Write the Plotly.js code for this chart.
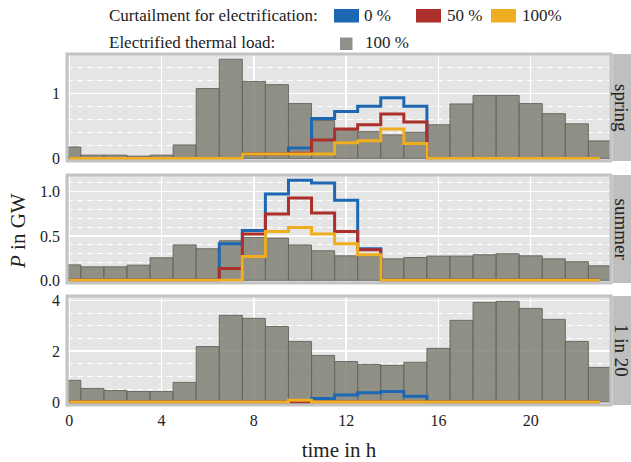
<!DOCTYPE html>
<html><head><meta charset="utf-8">
<script src="https://cdn.plot.ly/plotly-3.0.1.min.js"></script>
<style>html,body{margin:0;padding:0;background:#fff}#chart{width:631px;height:462px}</style>
</head><body><div id="chart"></div><script>
// ---- data ----
const hours = [0,1,2,3,4,5,6,7,8,9,10,11,12,13,14,15,16,17,18,19,20,21,22,23];
const panelNames = ['spring', 'summer', '1 in 20'];
const seriesNames = ['0 %', '50 %', '100%'];
const loadName = '100 %';

const springLoad = [0.175,0.05,0.05,0.035,0.05,0.206,1.07,1.52,1.18,1.13,0.84,0.58,0.44,0.41,0.36,0.40,0.515,0.835,0.965,0.965,0.84,0.686,0.53,0.268];
const springC0   = [0,0,0,0,0,0,0,0,0.066,0.066,0.16,0.61,0.72,0.80,0.93,0.80,0,0,0,0,0,0,0,0];
const springC50  = [0,0,0,0,0,0,0,0,0.066,0.066,0.08,0.28,0.45,0.515,0.68,0.557,0,0,0,0,0,0,0,0];
const springC100 = [0,0,0,0,0,0,0,0,0.066,0.066,0.066,0.066,0.24,0.27,0.45,0.23,0,0,0,0,0,0,0,0];

const summerLoad = [0.175,0.153,0.153,0.172,0.255,0.40,0.357,0.447,0.485,0.477,0.40,0.334,0.277,0.277,0.243,0.258,0.274,0.274,0.289,0.30,0.277,0.243,0.21,0.164];
const summerC0   = [0,0,0,0,0,0,0,0.413,0.564,0.976,1.13,1.10,0.904,0.357,0,0,0,0,0,0,0,0,0,0];
const summerC50  = [0,0,0,0,0,0,0,0.134,0.523,0.75,0.93,0.76,0.553,0.345,0,0,0,0,0,0,0,0,0,0];
const summerC100 = [0,0,0,0,0,0,0,0,0.27,0.553,0.598,0.523,0.413,0.289,0,0,0,0,0,0,0,0,0,0];

const winterLoad = [0.85,0.53,0.45,0.41,0.41,0.77,2.18,3.41,3.29,2.97,2.38,1.83,1.59,1.48,1.44,1.56,2.11,3.21,3.92,3.96,3.68,3.25,2.38,1.36];
const winterC0   = [0,0,0,0,0,0,0,0,0,0,0,0.14,0.27,0.36,0.41,0.22,0,0,0,0,0,0,0,0];
const winterC50  = [0,0,0,0,0,0,0,0,0,0,0,0,0,0,0,0,0,0,0,0,0,0,0,0];
const winterC100 = [0,0,0,0,0,0,0,0,0,0,0.07,0,0,0,0,0,0,0,0,0,0,0,0,0];

// ---- styling ----
const FONT = 'Liberation Serif, Times New Roman, serif';
const colors = ['#1d68b3', '#ad2f2b', '#eeae1f'];
const barFill = 'rgba(126,126,116,0.84)';
const barLine = 'rgba(100,100,92,0.9)';

const panelData = [
  {load: springLoad, c: [springC0, springC50, springC100], ax: 'y'},
  {load: summerLoad, c: [summerC0, summerC50, summerC100], ax: 'y2'},
  {load: winterLoad, c: [winterC0, winterC50, winterC100], ax: 'y3'}
];

const traces = [];
panelData.forEach((p, i) => {
  traces.push({type: 'bar', x: hours, y: p.load, yaxis: p.ax, width: 1,
    marker: {color: barFill, line: {color: barLine, width: 1}},
    name: loadName, showlegend: false, hoverinfo: 'x+y'});
  p.c.forEach((ser, k) => {
    traces.push({type: 'scatter', mode: 'lines', x: hours, y: ser, yaxis: p.ax,
      line: {color: colors[k], width: 3, shape: 'hvh'},
      name: seriesNames[k], showlegend: false});
  });
});

// pixel helpers (plot area x: 67..611, y: 54..405)
const L = 67, R = 611, T = 54, B = 405;
const px = v => (v - L) / (R - L);
const py = v => (B - v) / (B - T);

const doms = [[py(161), py(54)], [py(283), py(175)], [py(405), py(296)]];

function yax(dom, range, dtick, minorD, fmt) {
  return {domain: dom, range: range, dtick: dtick, tick0: 0, anchor: 'x',
    tickformat: fmt, showgrid: true, gridcolor: '#ffffff', gridwidth: 1.3,
    zeroline: false, showline: false, ticks: '', ticklabelstandoff: 6,
    tickfont: {family: FONT, size: 16, color: '#222'},
    minor: {dtick: minorD, tick0: 0, showgrid: true, gridcolor: '#ffffff', gridwidth: 1, griddash: '6px,4px'}};
}

const shapes = [];
const annotations = [];
['y', 'y2', 'y3'].forEach((a, i) => {
  shapes.push({type: 'rect', xref: 'paper', yref: a + ' domain', x0: 0, x1: 1, y0: 0, y1: 1,
    line: {color: '#c3c3c3', width: 3}, fillcolor: 'rgba(0,0,0,0)', layer: 'above'});
  shapes.push({type: 'rect', xref: 'paper', yref: a + ' domain', x0: px(612.5), x1: px(631), y0: 0, y1: 1,
    line: {width: 0}, fillcolor: '#bfbfbf', layer: 'above'});
  annotations.push({xref: 'paper', yref: a + ' domain', x: px(621.5), y: 0.5, text: panelNames[i],
    showarrow: false, textangle: 90, font: {family: FONT, size: 19, color: '#222'},
    xanchor: 'center', yanchor: 'middle'});
});

// legend (drawn as text + swatches)
const LF = 17;
annotations.push({xref: 'paper', yref: 'paper', x: px(107), y: py(15.5), text: 'Curtailment for electrification:',
  showarrow: false, xanchor: 'left', yanchor: 'middle', font: {family: FONT, size: LF, color: '#222'}});
annotations.push({xref: 'paper', yref: 'paper', x: px(107), y: py(43), text: 'Electrified thermal load:',
  showarrow: false, xanchor: 'left', yanchor: 'middle', font: {family: FONT, size: LF, color: '#222'}});
const swX = [334, 416, 491];
const labX = [362, 445, 520];
seriesNames.forEach((n, k) => {
  shapes.push({type: 'rect', xref: 'paper', yref: 'paper', x0: px(swX[k]), x1: px(swX[k] + 25),
    y0: py(22.5), y1: py(9), fillcolor: colors[k], line: {width: 0}});
  annotations.push({xref: 'paper', yref: 'paper', x: px(labX[k]), y: py(15.5), text: n,
    showarrow: false, xanchor: 'left', yanchor: 'middle', font: {family: FONT, size: LF, color: '#222'}});
});
shapes.push({type: 'rect', xref: 'paper', yref: 'paper', x0: px(340), x1: px(352.5),
  y0: py(50), y1: py(37.5), fillcolor: '#909088', line: {width: 0}});
annotations.push({xref: 'paper', yref: 'paper', x: px(363), y: py(43), text: loadName,
  showarrow: false, xanchor: 'left', yanchor: 'middle', font: {family: FONT, size: LF, color: '#222'}});

// y title
annotations.push({xref: 'paper', yref: 'paper', x: px(18), y: py(231), text: '<i>P</i> in GW',
  showarrow: false, textangle: -90, xanchor: 'center', yanchor: 'middle',
  font: {family: FONT, size: 21, color: '#222'}});

const layout = {
  width: 631, height: 462,
  margin: {l: L, r: 631 - R, t: T, b: 462 - B, pad: 0},
  paper_bgcolor: '#ffffff', plot_bgcolor: '#e5e5e5',
  bargap: 0, barmode: 'overlay', showlegend: false,
  font: {family: FONT, color: '#222'},
  xaxis: {range: [-0.1, 23.48], anchor: 'y3', tickvals: [0,4,8,12,16,20], showgrid: true,
    gridcolor: '#ffffff', gridwidth: 1.3, zeroline: false, ticks: '', ticklabelstandoff: 4,
    tickfont: {family: FONT, size: 16, color: '#222'},
    title: {text: 'time in h', font: {family: FONT, size: 21, color: '#222'}, standoff: 14}},
  yaxis: yax(doms[0], [-0.04, 1.6], 1, 0.2, 'd'),
  yaxis2: yax(doms[1], [-0.03, 1.19], 0.5, 0.1, '.1f'),
  yaxis3: yax(doms[2], [-0.12, 4.17], 2, 0.5, 'd'),
  shapes: shapes, annotations: annotations
};

Plotly.newPlot('chart', traces, layout, {displayModeBar: false, staticPlot: true});
</script></body></html>
